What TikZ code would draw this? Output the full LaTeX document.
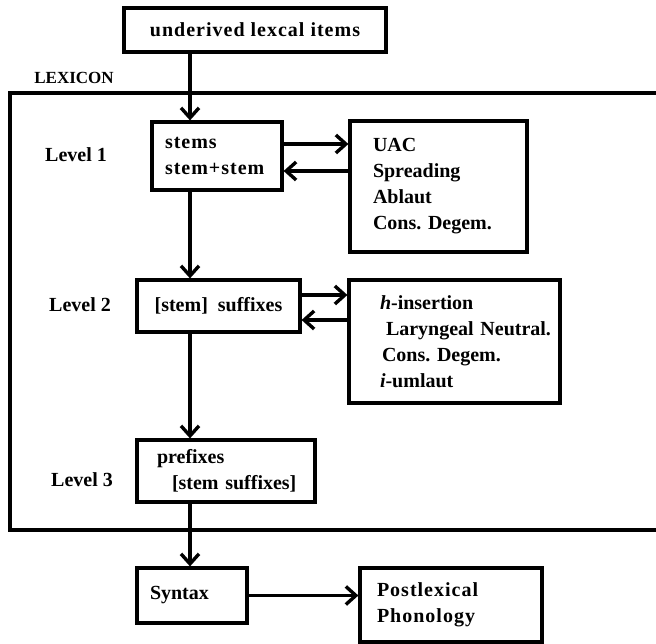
\documentclass[tikz,border=0pt]{standalone}
\usepackage{fontspec}
\setmainfont{Liberation Serif}
\usetikzlibrary{arrows.meta}
\tikzset{
	box/.style={draw, line width=3.2pt, inner ysep=0pt, align=left},
	wide/.style={font=\fontsize{20}{26}\selectfont\bfseries\addfontfeatures{LetterSpace=5}},
	arr/.style={line width=3.2pt, -{Straight Barb[length=10pt, width=18pt, line width=3.4pt]}}
}
\begin{document}
\begin{tikzpicture}[x=1pt, y=-1pt, font=\fontsize{20}{26}\selectfont\bfseries]
	\useasboundingbox (0,0) rectangle (656,643);
	%lexicon frame
	\draw[line width=3.2pt] (10,93) rectangle (672,530);
	\node (lexlabel) at (74,78) {\fontsize{17}{20}\selectfont LEXICON};
	\coordinate (spine) at (190,0);
	%boxes
	\node[box, wide, align=center, minimum width=262, minimum height=44] (lexitems) at (255,30) {underived lexcal items};
	\node[box, wide, inner xsep=13pt, text width=104pt, minimum height=68] (stems) at (217,156)
	{stems\\stem+stem};
	\node[box, inner xsep=23pt, text width=131pt, minimum height=131] (rulesone) at (438.5,186.5)
	{UAC\\Spreading\\Ablaut\\\mbox{Cons.\ Degem.}};
	\node[box, align=center, minimum width=163, minimum height=52] (suffixes) at (218.5,306) {[stem]~ suffixes};
	\node[box, inner xsep=31pt, text width=149pt, minimum height=123] (rulestwo) at (454.5,341.5)
	{\textit{h}-insertion\\\hspace*{6pt}\mbox{Laryngeal Neutral.}\\\hspace*{2pt}\mbox{Cons.\ Degem.}\\\textit{i}-umlaut};
	\node[box, inner xsep=20pt, text width=138pt, minimum height=62] (prefixes) at (226,471)
	{prefixes\\\hspace*{15pt}\mbox{[stem suffixes]}};
	\node[box, inner xsep=13pt, text width=84pt, minimum height=55] (syntax) at (192,595.5) {Syntax};
	\node[box, inner xsep=17pt, text width=148pt, minimum height=74] (postlex) at (451,605)
	{\addfontfeatures{LetterSpace=5}Postlexical\\Phonology};
	%levels
	\node (levelone) at (76,155) {Level 1};
	\node (leveltwo) at (80,305) {Level 2};
	\node (levelthree) at (82,480) {Level 3};
	%arrows
	\draw[arr] (lexitems.south -| spine) -- (stems.north -| spine);
	\draw[arr] (stems.south -| spine) -- (suffixes.north -| spine);
	\draw[arr] (suffixes.south -| spine) -- (prefixes.north -| spine);
	\draw[arr] (prefixes.south -| spine) -- (syntax.north -| spine);
	\draw[arr] ([yshift=12pt]stems.east) -- ([yshift=12pt]stems.east -| rulesone.west);
	\draw[arr] ([yshift=-15pt]stems.east -| rulesone.west) -- ([yshift=-15pt]stems.east);
	\draw[arr] ([yshift=11pt]suffixes.east) -- ([yshift=11pt]suffixes.east -| rulestwo.west);
	\draw[arr] ([yshift=-14pt]suffixes.east -| rulestwo.west) -- ([yshift=-14pt]suffixes.east);
	\draw[arr] (syntax.east) -- (syntax.east -| postlex.west);
\end{tikzpicture}
\end{document}
